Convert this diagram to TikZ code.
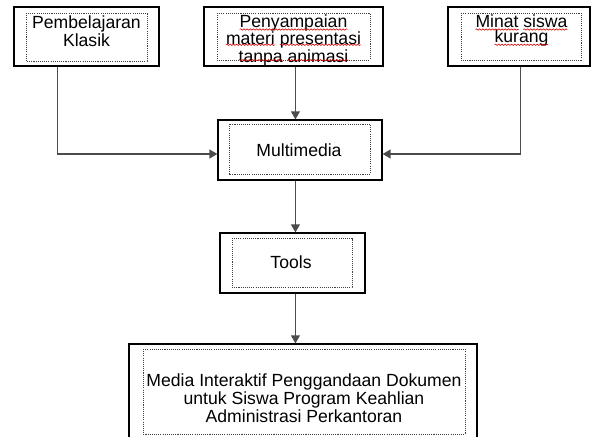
\documentclass[tikz,border=0pt]{standalone}
\usepackage{fontspec}
\setmainfont{Liberation Sans}
\usetikzlibrary{arrows.meta,fit,calc,decorations.pathmorphing}
\begin{document}
\begin{tikzpicture}[x=0.75pt,y=-0.75pt,
 outerbox/.style={draw=black, line width=0.85pt, inner sep=0pt, rectangle},
 innerbox/.style={draw=black!75, line width=0.6pt, dash pattern=on 0.8pt off 0.8pt},
 txt/.style={font=\fontsize{13.2pt}{11.6pt}\selectfont, align=center, inner sep=0pt},
 conn/.style={draw=black!70, line width=1.3pt, -{Triangle[length=6pt,width=6.5pt]}},
 squig/.style={draw=red!85!black, line width=0.45pt, decorate, decoration={snake, amplitude=0.5pt, segment length=2.4pt}}]
\useasboundingbox (0,0) rectangle (592,436);
\clip (0,0) rectangle (592,436);
% outer boxes
\node[outerbox, fit={(14,7)(159,66)}] (b1) {};
\node[outerbox, fit={(204,7)(383,66)}] (b2) {};
\node[outerbox, fit={(448,7)(590,66)}] (b3) {};
\node[outerbox, fit={(218,120)(382,180)}] (mm) {};
\node[outerbox, fit={(220,233)(365,293)}] (tools) {};
\node[outerbox, fit={(129,344)(477,442)}] (res) {};
% inner dotted boxes
\draw[innerbox] (26,13) rectangle (147,61);
\draw[innerbox] (217,13) rectangle (370,60);
\draw[innerbox] (461,13) rectangle (581,60);
\draw[innerbox] (229,124) rectangle (370,174);
\draw[innerbox] (232,238) rectangle (352,287);
\draw[innerbox] (143,349) rectangle (465,434);
% texts
\node[txt, anchor=north] (t1) at (86.5,15.3) {Pembelajaran\\Klasik};
\node[txt, anchor=north] (t2) at (293.5,14.2) {Penyampaian\\materi presentasi\\tanpa animasi};
\node[txt, anchor=north] (t3) at (521.5,14.2) {Minat siswa\\kurang};
\node[txt, anchor=base] (t4) at (299,156) {Multimedia};
\node[txt, anchor=base] (t5) at (291,268.5) {Tools};
\node[txt, anchor=north] (t6) at (304,373.5) {Media Interaktif Penggandaan Dokumen\\untuk Siswa Program Keahlian\\Administrasi Perkantoran};
% spell-check underlines
\draw[squig] (239.7,29.5) -- (347.3,29.5);
\draw[squig] (226,44.8) -- (275,44.8);
\draw[squig] (279.9,44.8) -- (361,44.8);
\draw[squig] (238.7,60.2) -- (282.7,60.2);
\draw[squig] (287.6,60.2) -- (348.3,60.2);
\draw[squig] (475.5,29.5) -- (518.5,29.5);
\draw[squig] (523.4,29.5) -- (567.4,29.5);
\draw[squig] (494.6,44.8) -- (548.4,44.8);
% connectors
\draw[conn] ($(b1.south west)+(44,0)$) |- ($(mm.west)+(0,4)$);
\draw[conn] ($(b2.south west)+(92,0)$) -- ($(mm.north west)+(78,0)$);
\draw[conn] ($(b3.south west)+(73,0)$) |- ($(mm.east)+(0,4)$);
\draw[conn] ($(mm.south west)+(78,0)$) -- ($(tools.north west)+(76,0)$);
\draw[conn] ($(tools.south west)+(76,0)$) -- ($(res.north west)+(167,0)$);
\end{tikzpicture}
\end{document}
